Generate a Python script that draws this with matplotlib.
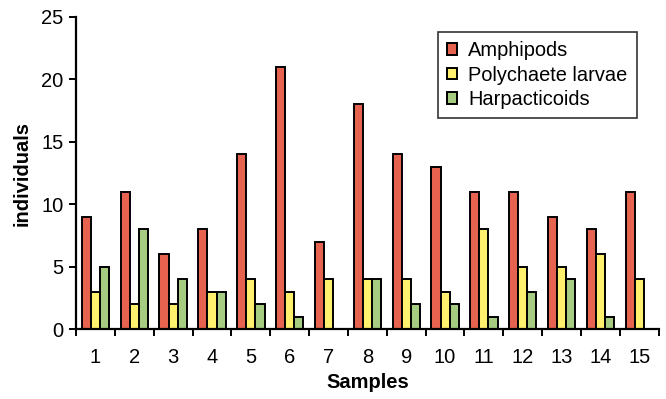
import numpy as np
import matplotlib
matplotlib.use("Agg")
import matplotlib.pyplot as plt

plt.rcParams['font.family'] = ['Liberation Sans', 'DejaVu Sans']

# Counts per sample
samples = [str(i) for i in range(1, 16)]
amphipods = [9, 11, 6, 8, 14, 21, 7, 18, 14, 13, 11, 11, 9, 8, 11]
polychaete = [3, 2, 2, 3, 4, 3, 4, 4, 4, 3, 8, 5, 5, 6, 4]
harpacticoids = [5, 8, 4, 3, 2, 1, 0, 4, 2, 2, 1, 3, 4, 1, 0]

series = [
    ("Amphipods", amphipods, "#E5634F"),
    ("Polychaete larvae", polychaete, "#FFF06E"),
    ("Harpacticoids", harpacticoids, "#A6CC82"),
]

fig = plt.figure(figsize=(6.66, 3.99), dpi=100)
ax = fig.add_axes([0.1141, 0.1754, 0.875, 0.782])

x = np.arange(len(samples))
w = 0.235
for k, (name, vals, col) in enumerate(series):
    ax.bar(x + (k - 1) * w, vals, width=w, color=col, edgecolor="black",
           linewidth=1.4, label=name)

ax.set_xlim(-0.5, len(samples) - 0.5)
ax.set_ylim(0, 25)
ax.set_yticks(range(0, 26, 5))
ax.set_xticks(x)
ax.set_xticklabels(samples)
# category separators as outward ticks
ax.set_xticks(np.arange(-0.5, len(samples), 1), minor=True)
ax.tick_params(axis="x", which="major", length=0, labelsize=14.5, pad=14)
ax.tick_params(axis="x", which="minor", length=5, width=1.4, direction="out")
ax.tick_params(axis="y", length=5, width=1.4, labelsize=14.5, pad=4)

for s in ["top", "right"]:
    ax.spines[s].set_visible(False)
for s in ["left", "bottom"]:
    ax.spines[s].set_linewidth(1.6)

ax.set_xlabel("Samples", fontsize=14.5, fontweight="bold", labelpad=4)
ax.set_ylabel("individuals", fontsize=14.5, fontweight="bold", labelpad=7)

leg = ax.legend(loc="upper right", bbox_to_anchor=(0.962, 0.952),
                borderaxespad=0, fontsize=14.4, frameon=True, fancybox=False,
                handlelength=0.5, handleheight=0.5, handletextpad=0.55,
                borderpad=0.45, labelspacing=0.28)
leg.get_frame().set_edgecolor("black")
leg.get_frame().set_linewidth(1.2)

fig.savefig("out.png", dpi=100)
